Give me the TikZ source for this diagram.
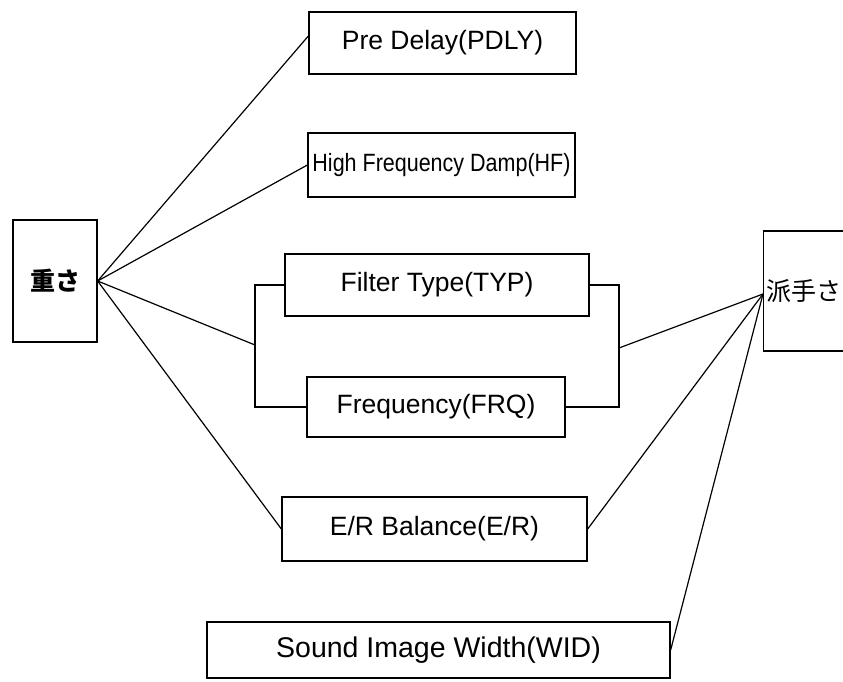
\documentclass[tikz,border=0pt]{standalone}
\usepackage{fontspec}
\setmainfont{Liberation Sans}
\newfontfamily\jp{Noto Sans CJK JP}
\begin{document}
\begin{tikzpicture}[x=1pt,y=-1pt,
  box/.style={draw, line width=1.3pt, inner sep=0pt, font=\fontsize{26.5}{30}\selectfont},
  jpbox/.style={box, font=\jp\fontsize{25}{28}\selectfont},
  link/.style={line width=1.2pt}]
\useasboundingbox (0,0) rectangle (843,682);
\clip (0,0) rectangle (843,682);
\node[jpbox, minimum width=84pt, minimum height=122pt, font=\jp\bfseries\fontsize{25}{28}\selectfont] (omosa) at (55,281) {重さ};
\node[jpbox, anchor=west, inner xsep=3pt, minimum height=120pt] (hade) at (763,291) {派手さ};
\node[box, minimum width=267pt, minimum height=62pt] (pre) at (442.5,43) {Pre Delay(PDLY)};
\node[box, minimum width=267pt, minimum height=64pt] (hf) at (441.5,165) {\scalebox{0.86}[1]{\fontsize{25}{28}\selectfont High Frequency Damp(HF)}};
\node[box, minimum width=304pt, minimum height=62pt] (filt) at (437,285) {Filter Type(TYP)};
\node[box, minimum width=258pt, minimum height=60pt] (freq) at (436,407) {Frequency(FRQ)};
\node[box, minimum width=305pt, minimum height=64pt] (er) at (434.5,529) {E/R Balance(E/R)};
\node[box, minimum width=463pt, minimum height=56pt, font=\fontsize{28.5}{32}\selectfont] (sound) at (438.5,650) {Sound Image Width(WID)};
\coordinate (bl) at (255,345);
\coordinate (br) at (619,348);
\draw[link] (filt.west) -| (bl) |- (freq.west);
\draw[link] (filt.east) -| (br) |- (freq.east);
\draw[link] (omosa.east) -- ([yshift=7pt]pre.west);
\draw[link] (omosa.east) -- (hf.west);
\draw[link] (omosa.east) -- (bl);
\draw[link] (omosa.east) -- (er.west);
\draw[link] (br) -- ([yshift=-3pt]hade.west);
\draw[link] (er.east) -- ([yshift=-3pt]hade.west);
\draw[link] (sound.east) -- ([yshift=-3pt]hade.west);
\end{tikzpicture}
\end{document}
